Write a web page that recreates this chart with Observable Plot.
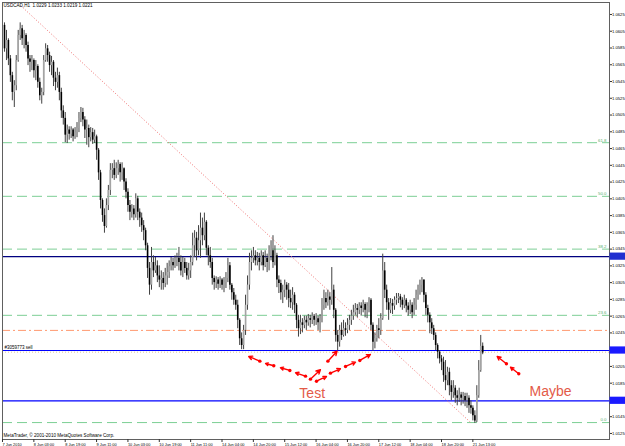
<!DOCTYPE html>
<html><head><meta charset="utf-8">
<script src="https://cdn.jsdelivr.net/npm/d3@7"></script>
<script src="https://cdn.jsdelivr.net/npm/@observablehq/plot@0.6"></script>
<style>html,body{margin:0;padding:0;background:#fff}svg{display:block}</style>
</head><body><div id="chart"></div>
<script>
const headerText = "USDCAD,H1  1.0229 1.0233 1.0219 1.0221";
const copyrightText = "MetaTrader, © 2001-2010 MetaQuotes Software Corp.";
const firstOpen = 1.0612;
const closes = [1.0584,1.0594,1.0572,1.0552,1.0532,1.0540,1.0570,1.0600,1.0608,1.0596,
1.0600,1.0588,1.0572,1.0568,1.0570,1.0558,1.0563,1.0544,1.0528,1.0532,
1.0570,1.0584,1.0576,1.0564,1.0568,1.0549,1.0544,1.0552,1.0532,1.0510,
1.0501,1.0481,1.0487,1.0482,1.0487,1.0479,1.0484,1.0489,1.0501,1.0508,
1.0499,1.0487,1.0489,1.0478,1.0484,1.0475,1.0479,1.0463,1.0436,1.0403,
1.0385,1.0372,1.0397,1.0415,1.0439,1.0441,1.0433,1.0441,1.0446,1.0436,
1.0441,1.0425,1.0413,1.0397,1.0389,1.0393,1.0386,1.0405,1.0389,1.0382,
1.0373,1.0367,1.0349,1.0322,1.0302,1.0329,1.0319,1.0325,1.0313,1.0308,
1.0310,1.0304,1.0313,1.0317,1.0324,1.0329,1.0325,1.0331,1.0334,1.0329,
1.0319,1.0329,1.0322,1.0313,1.0319,1.0329,1.0349,1.0358,1.0343,1.0355,
1.0370,1.0361,1.0377,1.0346,1.0337,1.0329,1.0310,1.0305,1.0308,1.0303,
1.0308,1.0302,1.0305,1.0310,1.0325,1.0302,1.0293,1.0284,1.0278,1.0260,
1.0238,1.0230,1.0248,1.0278,1.0302,1.0329,1.0334,1.0337,1.0331,1.0334,
1.0329,1.0337,1.0325,1.0334,1.0329,1.0337,1.0343,1.0329,1.0337,1.0308,
1.0304,1.0293,1.0296,1.0302,1.0296,1.0286,1.0281,1.0290,1.0278,1.0260,
1.0250,1.0257,1.0254,1.0260,1.0257,1.0262,1.0260,1.0265,1.0260,1.0262,
1.0257,1.0262,1.0278,1.0286,1.0281,1.0288,1.0284,1.0296,1.0272,1.0242,
1.0234,1.0248,1.0242,1.0250,1.0248,1.0254,1.0260,1.0265,1.0269,1.0274,
1.0272,1.0277,1.0274,1.0279,1.0272,1.0277,1.0284,1.0254,1.0234,1.0238,
1.0250,1.0248,1.0262,1.0319,1.0296,1.0281,1.0272,1.0280,1.0277,1.0284,
1.0286,1.0288,1.0284,1.0278,1.0284,1.0277,1.0272,1.0278,1.0269,1.0278,
1.0290,1.0296,1.0302,1.0308,1.0290,1.0274,1.0266,1.0257,1.0250,1.0242,
1.0230,1.0222,1.0214,1.0210,1.0194,1.0188,1.0198,1.0182,1.0174,1.0179,
1.0170,1.0167,1.0171,1.0167,1.0169,1.0164,1.0167,1.0158,1.0155,1.0146,
1.0140,1.0170,1.0200,1.0229,1.0221];
const highs = [1.0615,1.0606,1.0596,1.0576,1.0556,1.0546,1.0576,1.0606,1.0615,1.0612,
1.0606,1.0602,1.0592,1.0576,1.0576,1.0572,1.0570,1.0565,1.0549,1.0537,
1.0576,1.0590,1.0588,1.0580,1.0575,1.0570,1.0556,1.0561,1.0556,1.0537,
1.0516,1.0508,1.0493,1.0491,1.0491,1.0489,1.0490,1.0496,1.0508,1.0514,
1.0513,1.0503,1.0499,1.0493,1.0490,1.0489,1.0487,1.0481,1.0465,1.0439,
1.0405,1.0393,1.0405,1.0421,1.0447,1.0447,1.0451,1.0448,1.0451,1.0448,
1.0448,1.0442,1.0429,1.0417,1.0403,1.0398,1.0397,1.0411,1.0408,1.0393,
1.0388,1.0379,1.0370,1.0352,1.0329,1.0347,1.0337,1.0335,1.0331,1.0325,
1.0319,1.0317,1.0322,1.0328,1.0331,1.0335,1.0334,1.0337,1.0340,1.0347,
1.0337,1.0335,1.0334,1.0329,1.0328,1.0337,1.0364,1.0367,1.0365,1.0373,
1.0388,1.0382,1.0388,1.0379,1.0349,1.0347,1.0334,1.0313,1.0312,1.0311,
1.0312,1.0310,1.0311,1.0317,1.0334,1.0329,1.0304,1.0298,1.0290,1.0284,
1.0262,1.0245,1.0254,1.0290,1.0313,1.0340,1.0343,1.0347,1.0343,1.0341,
1.0340,1.0343,1.0341,1.0343,1.0339,1.0349,1.0355,1.0361,1.0349,1.0340,
1.0313,1.0308,1.0302,1.0308,1.0305,1.0304,1.0296,1.0299,1.0293,1.0280,
1.0266,1.0266,1.0262,1.0265,1.0265,1.0267,1.0266,1.0269,1.0267,1.0268,
1.0265,1.0267,1.0286,1.0296,1.0293,1.0296,1.0293,1.0323,1.0302,1.0274,
1.0248,1.0254,1.0257,1.0260,1.0257,1.0262,1.0266,1.0272,1.0278,1.0280,
1.0279,1.0281,1.0281,1.0284,1.0281,1.0281,1.0287,1.0286,1.0257,1.0245,
1.0254,1.0262,1.0268,1.0339,1.0329,1.0302,1.0286,1.0286,1.0285,1.0288,
1.0292,1.0292,1.0291,1.0287,1.0290,1.0286,1.0281,1.0284,1.0281,1.0286,
1.0296,1.0302,1.0308,1.0311,1.0308,1.0293,1.0278,1.0269,1.0262,1.0254,
1.0245,1.0232,1.0224,1.0218,1.0216,1.0212,1.0204,1.0203,1.0188,1.0188,
1.0182,1.0176,1.0179,1.0174,1.0174,1.0173,1.0173,1.0170,1.0164,1.0158,
1.0152,1.0182,1.0212,1.0242,1.0233];
const lows = [1.0580,1.0570,1.0564,1.0544,1.0522,1.0514,1.0534,1.0568,1.0594,1.0588,
1.0584,1.0580,1.0564,1.0556,1.0558,1.0549,1.0546,1.0537,1.0522,1.0518,
1.0528,1.0568,1.0568,1.0556,1.0552,1.0539,1.0534,1.0537,1.0522,1.0501,
1.0493,1.0472,1.0471,1.0475,1.0477,1.0473,1.0476,1.0478,1.0484,1.0496,
1.0491,1.0477,1.0469,1.0466,1.0473,1.0470,1.0471,1.0451,1.0427,1.0393,
1.0377,1.0364,1.0370,1.0391,1.0409,1.0429,1.0427,1.0429,1.0433,1.0425,
1.0427,1.0415,1.0405,1.0389,1.0379,1.0382,1.0379,1.0382,1.0379,1.0371,
1.0365,1.0355,1.0343,1.0310,1.0290,1.0296,1.0311,1.0316,1.0305,1.0299,
1.0296,1.0296,1.0299,1.0302,1.0310,1.0319,1.0319,1.0322,1.0324,1.0319,
1.0313,1.0311,1.0316,1.0308,1.0308,1.0310,1.0325,1.0335,1.0331,1.0337,
1.0334,1.0349,1.0355,1.0337,1.0325,1.0322,1.0302,1.0296,1.0298,1.0296,
1.0298,1.0296,1.0293,1.0298,1.0305,1.0296,1.0284,1.0278,1.0272,1.0250,
1.0230,1.0225,1.0225,1.0242,1.0272,1.0296,1.0319,1.0328,1.0325,1.0325,
1.0319,1.0325,1.0319,1.0323,1.0317,1.0319,1.0331,1.0322,1.0325,1.0299,
1.0292,1.0284,1.0280,1.0287,1.0284,1.0275,1.0274,1.0272,1.0268,1.0250,
1.0240,1.0243,1.0245,1.0250,1.0248,1.0253,1.0251,1.0255,1.0253,1.0254,
1.0248,1.0245,1.0257,1.0272,1.0274,1.0277,1.0272,1.0278,1.0262,1.0234,
1.0224,1.0228,1.0236,1.0240,1.0241,1.0244,1.0248,1.0254,1.0260,1.0266,
1.0263,1.0267,1.0265,1.0269,1.0263,1.0262,1.0269,1.0248,1.0223,1.0226,
1.0234,1.0238,1.0242,1.0260,1.0286,1.0272,1.0260,1.0268,1.0267,1.0272,
1.0278,1.0280,1.0275,1.0272,1.0274,1.0269,1.0265,1.0267,1.0262,1.0266,
1.0272,1.0284,1.0290,1.0293,1.0281,1.0266,1.0257,1.0244,1.0243,1.0236,
1.0224,1.0214,1.0208,1.0200,1.0186,1.0176,1.0182,1.0170,1.0164,1.0167,
1.0161,1.0158,1.0162,1.0158,1.0160,1.0157,1.0155,1.0149,1.0148,1.0140,
1.0137,1.0138,1.0167,1.0198,1.0219];

const dateLabels = ["7 Jun 2010","8 Jun 03:00","8 Jun 19:00","9 Jun 11:00","10 Jun 03:00","10 Jun 19:00","11 Jun 11:00","14 Jun 04:00","14 Jun 20:00","15 Jun 12:00","16 Jun 04:00","16 Jun 20:00","17 Jun 12:00","18 Jun 04:00","18 Jun 20:00","21 Jun 13:00"];
const dateBars = [0,16,32,48,64,80,96,112,128,144,160,176,192,208,224,240];
const priceTicks = [1.0625,1.0605,1.0585,1.0565,1.0545,1.0525,1.0505,1.0485,1.0465,1.0445,1.0425,1.0405,1.0385,1.0365,1.0345,1.0325,1.0305,1.0285,1.0265,1.0245,1.0205,1.0185,1.0145,1.0125];

const fibLevels = [1.0472,1.0408,1.0345,1.0266,1.0138];
const fibNames = ["61.8","50.0","38.2","23.6","0.0"];
const levelLines = [1.0336,1.0224,1.0164];
const levelColors = ["#000080","#0000ff","#0000ff"];
const dashDotLevel = 1.0248;
const orderLevel = 1.0222;
const orderLabel = "#3059773 sell";
const trendBars = [8.2,237.8];
const trendPrices = [1.06357,1.01382];

const arrowTailBar = [130.3,137.4,145.6,153.6,156.1,165.0,159.2,166.3,174.0,181.3,256.1,262.4];
const arrowTailPrice = [1.02113,1.02058,1.02002,1.01934,1.01898,1.02113,1.01874,1.01970,1.02050,1.02121,1.02082,1.01962];
const arrowHeadBar = [124.6,133.2,140.8,148.5,161.2,169.7,164.3,171.4,179.1,186.7,251.4,258.2];
const arrowHeadPrice = [1.02169,1.02085,1.02034,1.01974,1.02010,1.02232,1.01930,1.02022,1.02101,1.02193,1.02169,1.02041];
const notes = ["Test","Maybe"];
const noteBar = [157,278.6];
const notePrice = [1.01724,1.01751];

const bars = closes.map((c,i)=>{
  const o = i===0 ? firstOpen : closes[i-1];
  return {i, open:o, close:c, high:Math.max(highs[i],o,c), low:Math.min(lows[i],o,c)};
});
const bull = bars.filter(d=>d.close>=d.open);
const bear = bars.filter(d=>d.close<d.open);
const fib = fibLevels.map((v,k)=>({level:v,name:fibNames[k]}));
const arrows = arrowTailBar.map((v,k)=>({x1:v,y1:arrowTailPrice[k],x2:arrowHeadBar[k],y2:arrowHeadPrice[k]}));
const noteData = notes.map((t,k)=>({t,x:noteBar[k],y:notePrice[k]}));
const trend = [{x1:trendBars[0],y1:trendPrices[0],x2:trendBars[1],y2:trendPrices[1]}];
const font = "Liberation Sans, Arial, sans-serif";

const chart = Plot.plot({
  width:625, height:446,
  marginTop:2, marginLeft:2, marginRight:16, marginBottom:7,
  x:{domain:[-1.02,308.7], axis:null},
  y:{domain:[1.01178,1.06393], axis:null},
  style:{fontFamily:font, background:"#fff"},
  marks:[
    Plot.ruleY(fib,{y:"level",stroke:"#7ccf95",strokeDasharray:"10,5"}),
    Plot.text(fib,{y:"level",text:"name",frameAnchor:"right",textAnchor:"end",dx:-3,dy:-2.6,fill:"#5cb070",fontSize:4.4}),
    Plot.ruleY([dashDotLevel],{stroke:"#ff9a70",strokeDasharray:"8,3,2,3"}),
    Plot.ruleY([orderLevel],{stroke:"#dcc89c",strokeDasharray:"1,2"}),
    Plot.text([orderLabel],{y:orderLevel,frameAnchor:"left",textAnchor:"start",dx:2,dy:-4.5,fontSize:4.5,fill:"#000"}),
    ...levelLines.map((v,k)=>Plot.ruleY([v],{stroke:levelColors[k],strokeWidth:1.2})),
    Plot.link(trend,{x1:"x1",y1:"y1",x2:"x2",y2:"y2",stroke:"#f07070",strokeDasharray:"1,2",clip:true}),
    Plot.ruleX(bars,{x:"i",y1:"low",y2:"high",stroke:"#404040",strokeWidth:1}),
    Plot.ruleX(bull,{x:"i",y1:"open",y2:"close",stroke:"#a4a4a4",strokeWidth:1.6}),
    Plot.ruleX(bear,{x:"i",y1:"open",y2:"close",stroke:"#000",strokeWidth:1.6}),
    Plot.arrow(arrows,{x1:"x1",y1:"y1",x2:"x2",y2:"y2",stroke:"#ff0000",strokeWidth:1.4,headLength:5,headAngle:55}),
    Plot.dot(arrows,{x:"x1",y:"y1",r:1.7,fill:"#ff0000"}),
    Plot.text(noteData,{x:"x",y:"y",text:"t",fill:"#e35a48",fontSize:14}),
    Plot.text([headerText],{frameAnchor:"top-left",dx:1,dy:1,lineAnchor:"top",fontSize:4.6,fill:"#000"}),
    Plot.text([copyrightText],{frameAnchor:"bottom-left",dx:1,dy:-3,lineAnchor:"bottom",fontSize:4.6,fill:"#000"}),
    Plot.frame({stroke:"#606060"}),
    Plot.axisY(priceTicks,{anchor:"right",tickSize:2,tickPadding:0.4,tickFormat:d=>d.toFixed(4),fontSize:4.2,fill:"#000",stroke:"#333"}),
    Plot.axisX(dateBars,{anchor:"bottom",tickSize:3,tickPadding:0.5,tickFormat:(d,i)=>dateLabels[i],textAnchor:"start",dx:-2,fontSize:3.9,fill:"#000",stroke:"#333"}),
    Plot.text(levelLines,{y:d=>d,text:d=>d.toFixed(4),frameAnchor:"right",textAnchor:"start",dx:2.4,fill:"#fff",fontSize:4.2,ariaLabel:"hl-labels"})
  ]
});
document.getElementById("chart").appendChild(chart);
// blue price tags on the right axis for the horizontal level lines
const yScale = chart.scale("y");
const svgSel = d3.select(chart);
const tagG = svgSel.insert("g", 'g[aria-label="hl-labels"]');
tagG.selectAll("rect").data(levelLines).join("rect")
  .attr("x", 609.5).attr("width", 16)
  .attr("y", d => yScale.apply(d) - 3.6).attr("height", 7.2)
  .attr("fill", (d,k) => k===0 ? "#1f2fd0" : "#1a1aff");
const hl = svgSel.select('g[aria-label="hl-labels"]').node();
if (hl) chart.appendChild(hl);
</script></body></html>
